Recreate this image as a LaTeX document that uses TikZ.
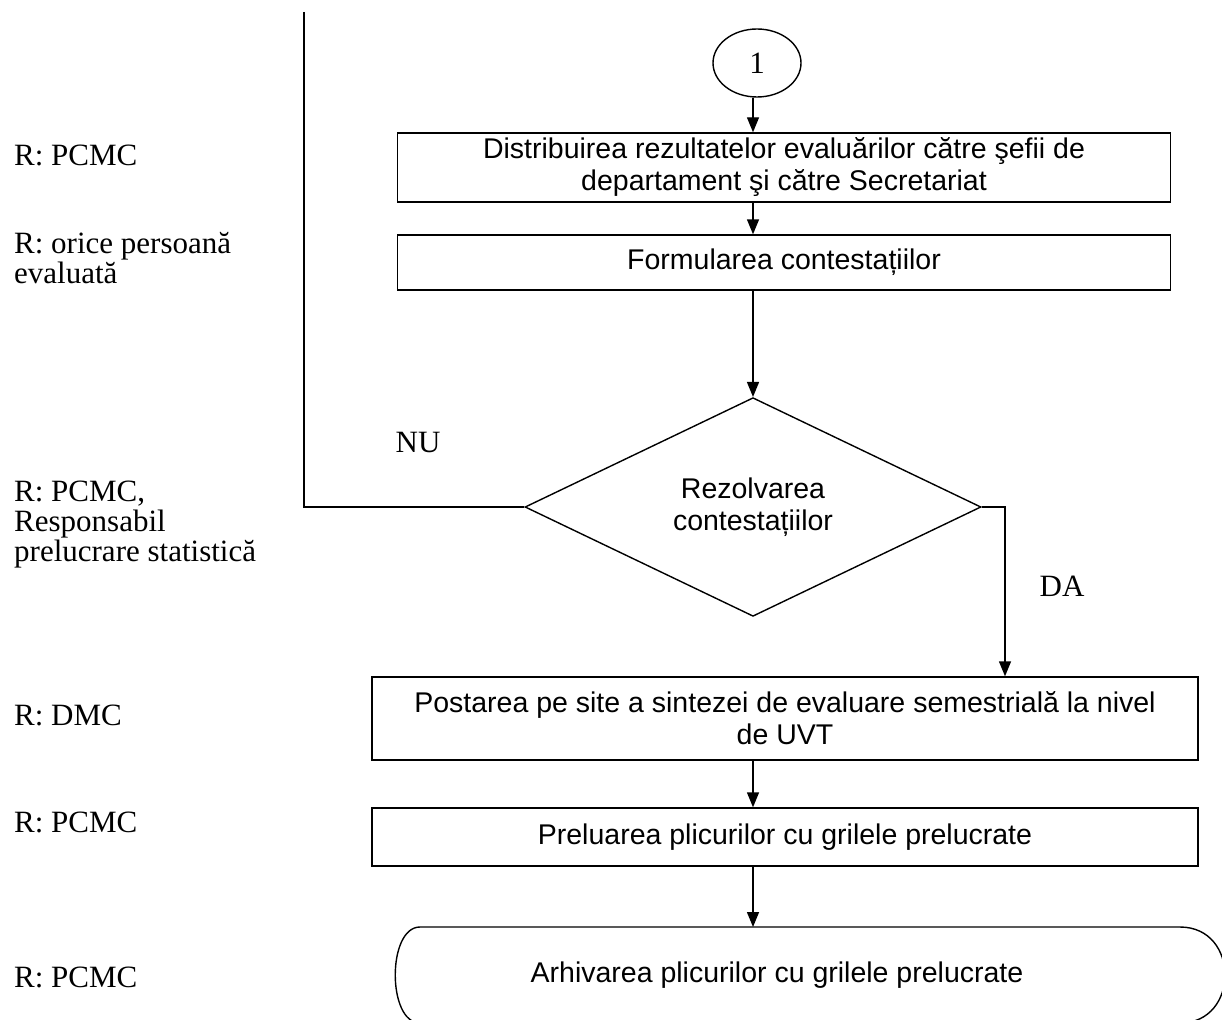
\documentclass[tikz,border=0pt]{standalone}
\usepackage{fontspec}
\setmainfont{Liberation Serif}
\setsansfont{Liberation Sans}
\usetikzlibrary{shapes.geometric,arrows.meta}
\begin{document}
\begin{tikzpicture}[x=1pt,y=-1pt,
  ln/.style={line width=1.4pt},
  arr/.style={ln,-{Triangle[length=15pt,width=12pt]}},
  sfont/.style={font=\sffamily\fontsize{28.5}{32}\selectfont},
  box/.style={draw,ln,sfont,align=center,inner sep=0pt},
  lbl/.style={font=\fontsize{31}{30}\selectfont,align=left,inner sep=0pt,anchor=west},
  yn/.style={font=\fontsize{31}{33}\selectfont,inner sep=0pt},
]
\useasboundingbox (0,0) rectangle (1222,1019);
\clip (0,0) rectangle (1222,1019);

% left labels
\node[lbl] (l1) at (14,155) {R: PCMC};
\node[lbl] (l2) at (14,258) {R: orice persoană\\evaluată};
\node[lbl] (l3) at (14,525) {R: PCMC,\\Responsabil\\prelucrare statistică};
\node[lbl] (l4) at (14,715) {R: DMC};
\node[lbl] (l5) at (14,822) {R: PCMC};
\node[lbl] (l6) at (14,977) {R: PCMC};

% flow
\coordinate (ax) at (753,0);
\node[draw,ln,ellipse,minimum width=88pt,minimum height=68pt,inner sep=0pt,font=\fontsize{31}{33}\selectfont] (c1) at (757,63) {1};
\node[box,minimum width=773pt,minimum height=69pt] (r1) at (784,167.5) {Distribuirea rezultatelor evaluărilor către şefii de\\departament şi către Secretariat};
\node[box,minimum width=773pt,minimum height=55pt] (r2) at (784,262.5) {Formularea contestațiilor};
\node[box,diamond,minimum width=456pt,minimum height=216pt] (d) at (753,507) {Rezolvarea\\contestațiilor};
\node[box,minimum width=826pt,minimum height=83pt] (r3) at (785,718.5) {Postarea pe site a sintezei de evaluare semestrială la nivel\\de UVT};
\node[box,minimum width=826pt,minimum height=58pt] (r4) at (785,837) {Preluarea plicurilor cu grilele prelucrate};

% terminal
\coordinate (ttl) at (420,927);
\coordinate (ttr) at (1180,927);
\coordinate (tbr) at (1180,1023);
\coordinate (tbl) at (420,1023);
\draw[ln] (ttl) -- (ttr) .. controls (1240,927) and (1240,1023) .. (tbr) -- (tbl) .. controls (387,1023) and (387,927) .. (ttl) -- cycle;
\node[sfont,inner sep=0pt] (t6) at (777,975) {Arhivarea plicurilor cu grilele prelucrate};

% connectors
\draw[arr] (c1.south -| ax) -- (r1.north -| ax);
\draw[arr] (r1.south -| ax) -- (r2.north -| ax);
\draw[arr] (r2.south -| ax) -- (d.north);
\draw[arr] (r3.south -| ax) -- (r4.north -| ax);
\draw[arr] (r4.south -| ax) -- (ttl -| ax);

\coordinate (lt) at (304,12);
\draw[ln] (lt) |- (d.west);
\coordinate (rx) at (1005,0);
\draw[arr] (d.east) -| (rx |- r3.north);

\node[yn] (nu) at (418,442) {NU};
\node[yn] (da) at (1062,586) {DA};
\end{tikzpicture}
\end{document}
